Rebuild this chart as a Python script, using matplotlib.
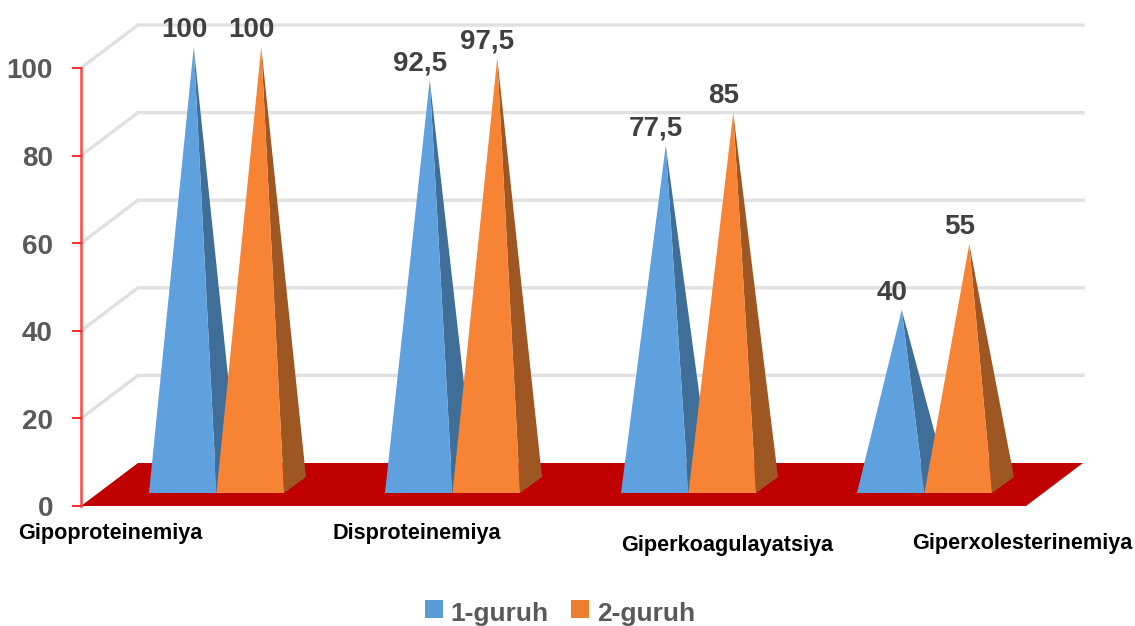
import matplotlib
matplotlib.use("Agg")
import matplotlib.pyplot as plt
from matplotlib.patches import Patch, Rectangle
from matplotlib.legend_handler import HandlerPatch

categories = ["Gipoproteinemiya", "Disproteinemiya", "Giperkoagulayatsiya", "Giperxolesterinemiya"]
group1 = [100, 92.5, 77.5, 40]
group2 = [100, 97.5, 85, 55]
series_names = ["1-guruh", "2-guruh"]
y_ticks = [0, 20, 40, 60, 80, 100]

W, H = 1135, 626
PX_Y = 4.38          # pixels per value unit
PX_X = 236.0         # pixels per category
Y0_PX = 506
X0_PX = 149          # left edge of the first pyramid

fig = plt.figure(figsize=(W / 100, H / 100), dpi=100, facecolor="white")
ax = fig.add_axes([0, 0, 1, 1])
ax.set_xlim(-X0_PX / PX_X, (W - X0_PX) / PX_X)
ax.set_ylim((Y0_PX - H) / PX_Y, Y0_PX / PX_Y)
ax.axis("off")

dx = lambda px: px / PX_X
dy = lambda px: px / PX_Y
FONT = ["Liberation Sans", "DejaVu Sans"]
NUM_SIZE = 20
CAT_SIZE = 15.6
LEG_SIZE = 19

# wall offsets
ox, oy = dx(57), dy(43)
left = dx(81 - X0_PX)
right = dx(1083 - X0_PX)

# gridlines
for v in y_ticks[1:]:
    ax.plot([left, left + ox, right], [v, v + oy, v + oy], color="#e0e0e0", lw=2.4,
            solid_joinstyle="miter", zorder=1)

# floor
ax.fill([left, left + ox, right, right - ox], [0, oy, oy, 0], color="#c00000", lw=0, zorder=2)

# axis
ax.plot([left, left], [0, 100], color="#ff4545", lw=1.8, zorder=3)
for v in y_ticks:
    ax.plot([left - dx(8), left], [v, v], color="#ff2a2a", lw=1.4, zorder=3)
    ax.text(left - dx(28), v - dy(3.5), str(v), ha="right", va="center", color="#595959",
            fontsize=NUM_SIZE, fontweight="bold", family=FONT, zorder=5)

# pyramids
bw = dx(67.5)
depth_x, depth_y = dx(22), dy(16)
base_y = dy(13)
styles = [("#5fa1de", "#3f6f98"), ("#f78435", "#9e5723")]
z = 4.0
for i in range(len(categories)):
    for s, vals in enumerate((group1, group2)):
        v = vals[i]
        x0 = i + s * bw
        x1 = x0 + bw
        ax_ = x0 + bw / 2 + depth_x / 2
        ay = v + (base_y + depth_y / 2)
        front, side = styles[s]
        ax.fill([x1, x1 + depth_x, ax_], [base_y, base_y + depth_y, ay], color=side, lw=0, zorder=z)
        ax.fill([x0, x1, ax_], [base_y, base_y, ay], color=front, lw=0, zorder=z + 0.01)
        z += 0.1
        label = f"{v:g}".replace(".", ",")
        ax.annotate(label, (ax_, ay), xytext=(-7, 12), textcoords="offset points",
                    ha="center", va="center", color="#404040", fontsize=NUM_SIZE,
                    fontweight="bold", family=FONT, zorder=20)

# category labels
label_px = [(110, 534), (417, 534), (727, 546), (1022, 543)]
for name, (px, py) in zip(categories, label_px):
    ax.text(dx(px - X0_PX), dy(Y0_PX - py), name, ha="center", va="center", color="black",
            fontsize=CAT_SIZE, fontweight="bold", family=FONT, zorder=20)


def raised_square(legend, orig_handle, xdescent, ydescent, width, height, fontsize):
    return Rectangle((-xdescent, -ydescent + 0.11 * fontsize), width, width)


handles = [Patch(facecolor="#5b9bd5", edgecolor="none"), Patch(facecolor="#ed7d31", edgecolor="none")]
ax.legend(handles, series_names, loc="center left",
          bbox_to_anchor=(425 / W, 1 - 614 / H), ncols=2, frameon=False, borderpad=0,
          borderaxespad=0, handlelength=0.68, handleheight=0.68, handletextpad=0.3,
          columnspacing=0.85, labelcolor="#595959",
          handler_map={Patch: HandlerPatch(patch_func=raised_square)},
          prop={"family": FONT, "weight": "bold", "size": LEG_SIZE})

fig.savefig("out.png", dpi=100)
